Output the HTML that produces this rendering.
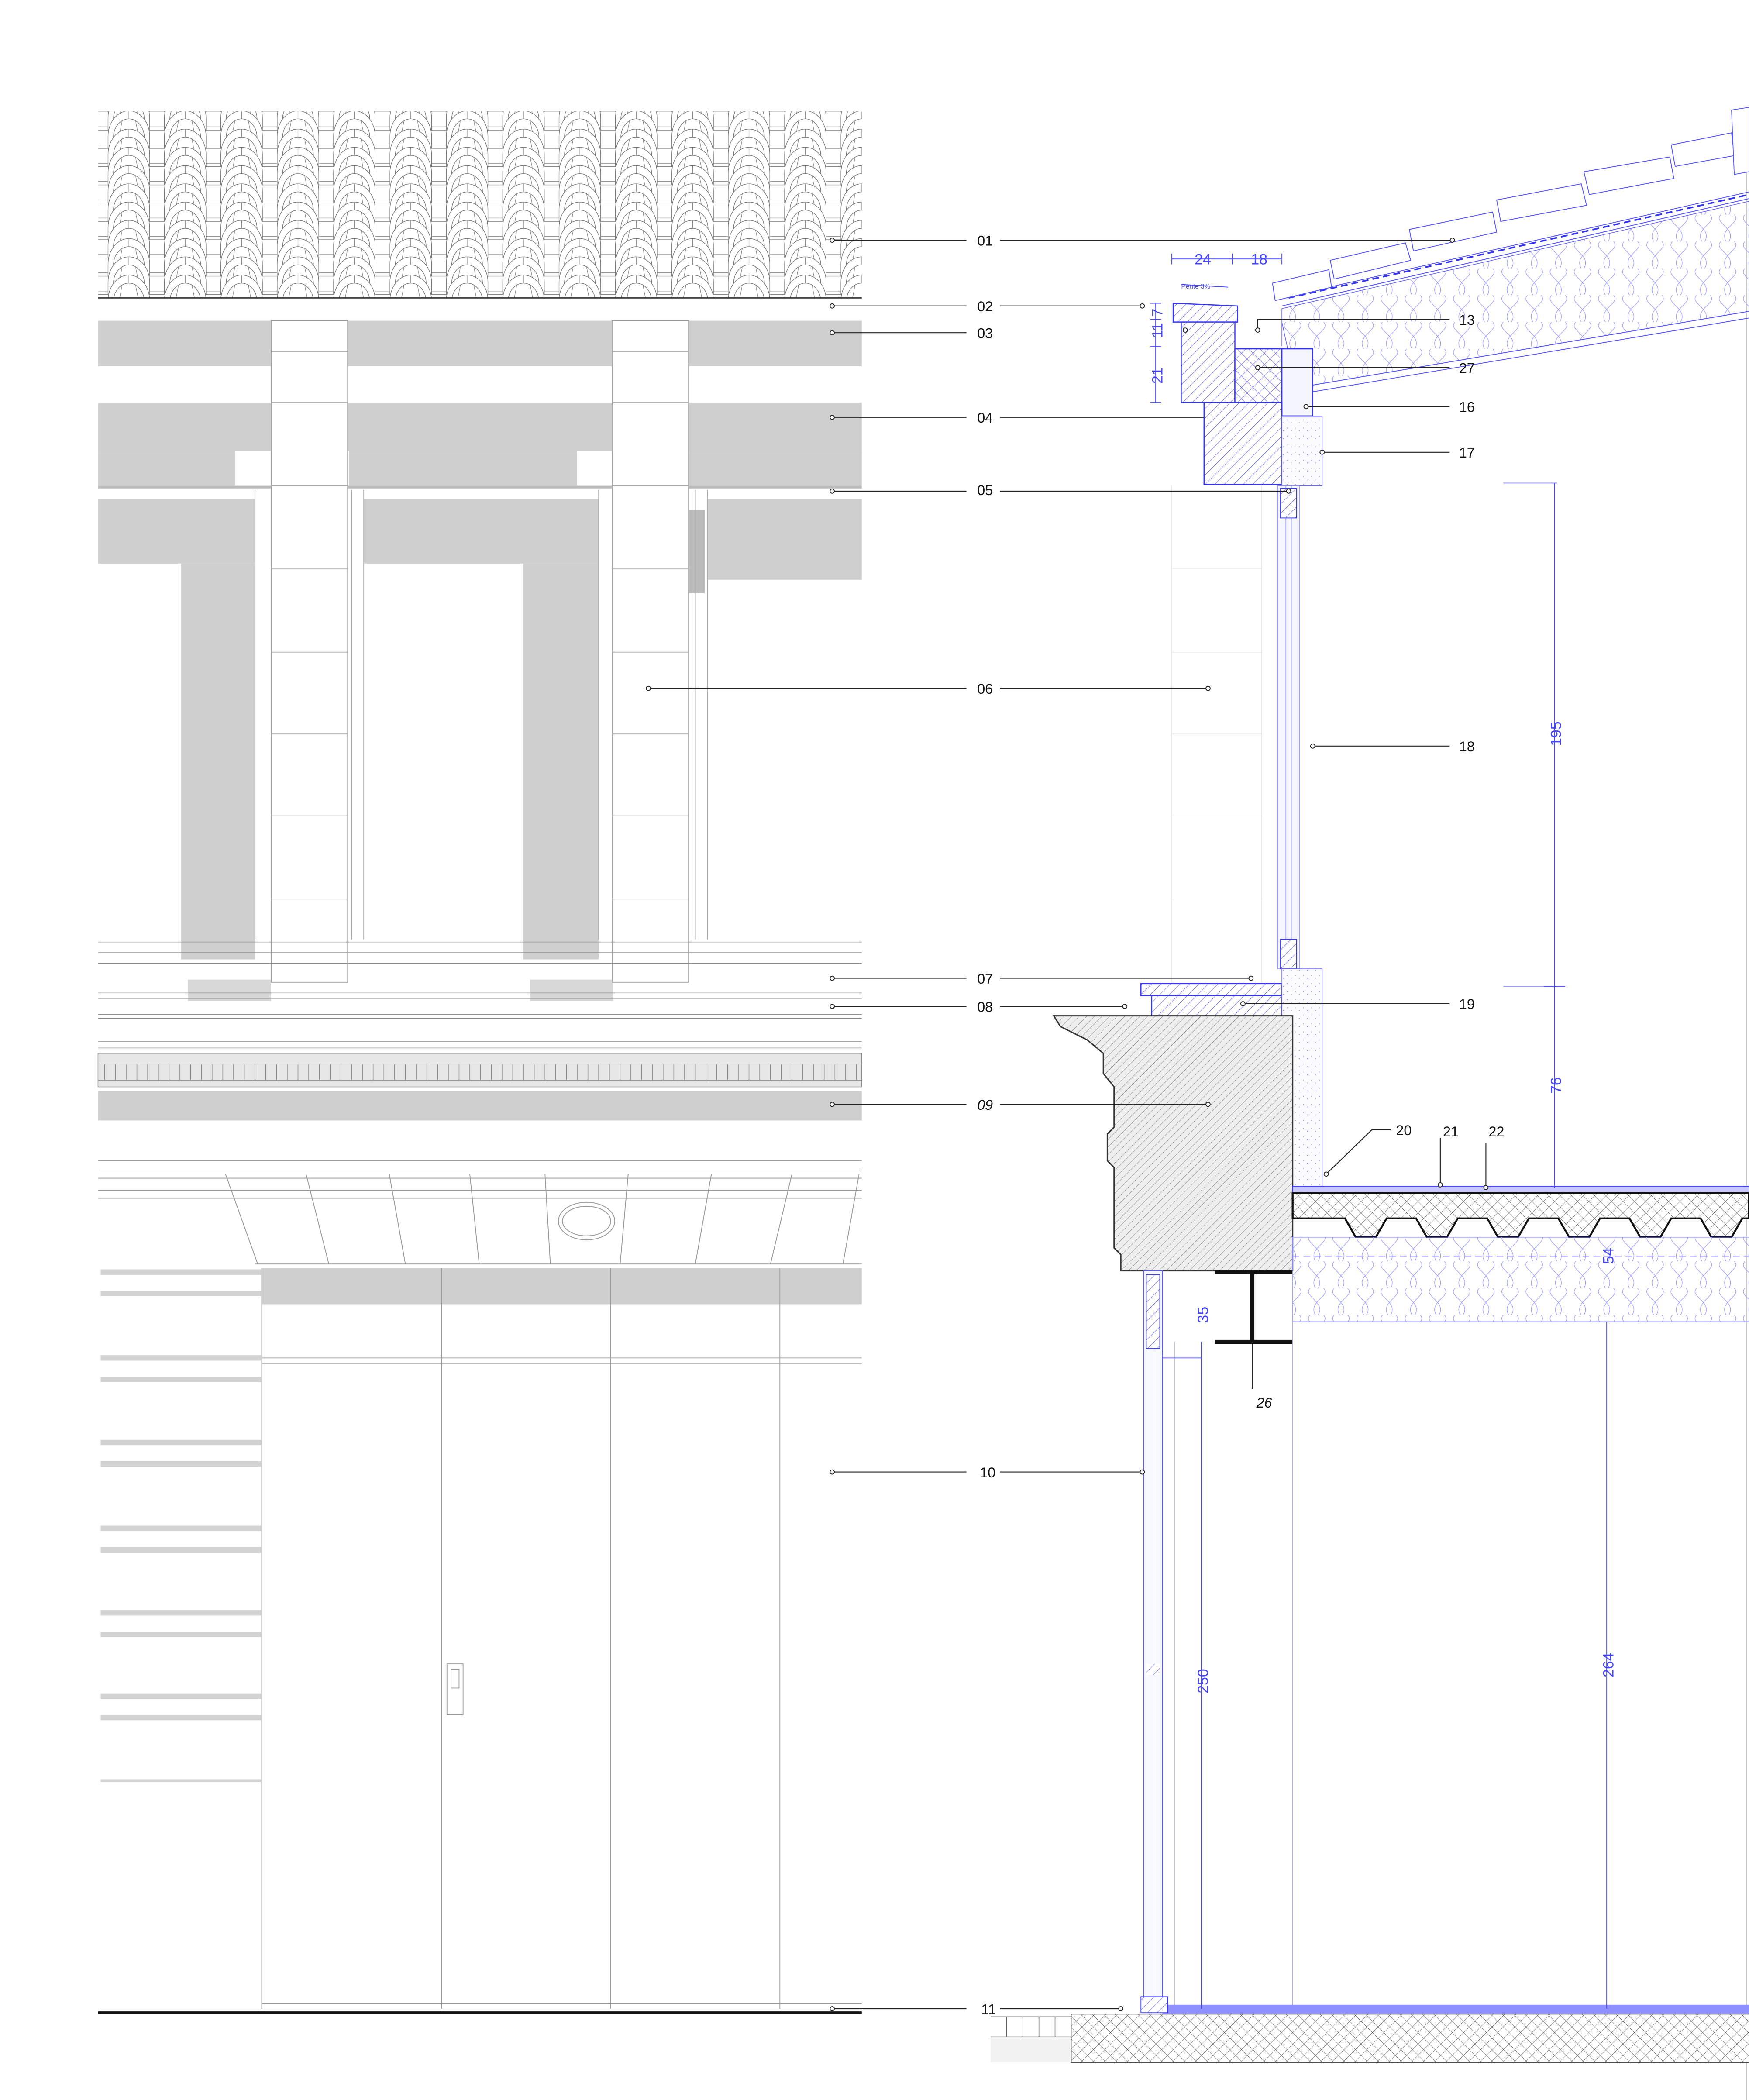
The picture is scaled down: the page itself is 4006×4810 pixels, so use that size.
<!DOCTYPE html>
<html><head><meta charset="utf-8"><style>
html,body{margin:0;padding:0;background:#fff}
svg{display:block}
text{font-family:"Liberation Sans",sans-serif}
</style></head><body>
<svg width="4006" height="4810" viewBox="0 0 1303 1565" preserveAspectRatio="none" xmlns="http://www.w3.org/2000/svg">
<defs>
<g id="t">
<path d="M-15.5 0V-9A15.5 19 0 0 1 15.5 -9V0Z" fill="#fff" stroke="#777" stroke-width="0.45"/>
<path d="M-11.5 0V-8A11.5 14 0 0 1 11.5 -8V0" fill="none" stroke="#777" stroke-width="0.45"/>
<path d="M0 -28V-22M-5 -20.5L-9 0M5 -20.5L9 0" stroke="#888" stroke-width="0.4"/>
</g>
<g id="row">
<path d="M73 0H642M73 -2.5H642" stroke="#888" stroke-width="0.45"/>
<use href="#t" x="54"/><use href="#t" x="96"/><use href="#t" x="138"/><use href="#t" x="180"/><use href="#t" x="222"/><use href="#t" x="264"/><use href="#t" x="306"/><use href="#t" x="348"/><use href="#t" x="390"/><use href="#t" x="432"/><use href="#t" x="474"/><use href="#t" x="516"/><use href="#t" x="558"/><use href="#t" x="600"/><use href="#t" x="642"/>
</g>
<clipPath id="tc"><rect x="73" y="83" width="569" height="139"/></clipPath>
<pattern id="hatch" width="5" height="5" patternUnits="userSpaceOnUse" patternTransform="rotate(45)">
<rect width="5" height="5" fill="#fff"/><path d="M0 0V5" stroke="#3a3af0" stroke-width="0.5"/>
</pattern>
<pattern id="hatchg" width="4" height="4" patternUnits="userSpaceOnUse" patternTransform="rotate(45)">
<rect width="4" height="4" fill="#eee"/><path d="M0 0V4" stroke="#555" stroke-width="0.35"/>
</pattern>
<pattern id="cross" width="6" height="6" patternUnits="userSpaceOnUse" patternTransform="rotate(45)">
<rect width="6" height="6" fill="#fff"/><path d="M0 0V6M0 0H6" stroke="#3a3af0" stroke-width="0.45"/>
</pattern>
<pattern id="crossk" width="6" height="6" patternUnits="userSpaceOnUse" patternTransform="rotate(45)">
<rect width="6" height="6" fill="#fff"/><path d="M0 0V6M0 0H6" stroke="#333" stroke-width="0.4"/>
</pattern>
<pattern id="dots" width="6" height="6" patternUnits="userSpaceOnUse">
<rect width="6" height="6" fill="#fbfbff"/><circle cx="2" cy="3" r="0.3" fill="#66f"/><circle cx="5" cy="1" r="0.25" fill="#66f"/>
</pattern>
<pattern id="ins" width="18" height="20" patternUnits="userSpaceOnUse">
<path d="M4 0C-2 6 16 10 10 20M14 0C20 6 2 10 8 20" fill="none" stroke="#99f" stroke-width="0.4"/>
</pattern>
</defs>

<!-- LEFT ELEVATION -->
<g clip-path="url(#tc)">
<use href="#row" y="83.4"/><use href="#row" y="97"/><use href="#row" y="110.6"/><use href="#row" y="124.2"/><use href="#row" y="137.8"/><use href="#row" y="151.4"/><use href="#row" y="165"/><use href="#row" y="178.6"/><use href="#row" y="192.2"/><use href="#row" y="205.8"/><use href="#row" y="219.4"/><use href="#row" y="233"/>
</g>
<path d="M73 222H642" stroke="#444" stroke-width="1"/>
<rect x="73" y="239" width="569" height="34" fill="#cfcfcf"/>
<rect x="73" y="300" width="569" height="36" fill="#cfcfcf"/>
<rect x="73" y="336" width="102" height="26" fill="#cfcfcf"/>
<rect x="260" y="336" width="170" height="26" fill="#cfcfcf"/>
<rect x="513" y="336" width="129" height="26" fill="#cfcfcf"/>
<rect x="73" y="362" width="569" height="2" fill="#bbb"/>
<rect x="73" y="372" width="117" height="48" fill="#cfcfcf"/>
<rect x="135" y="420" width="55" height="295" fill="#cfcfcf"/>
<rect x="271" y="372" width="175" height="48" fill="#cfcfcf"/>
<rect x="390" y="420" width="56" height="295" fill="#cfcfcf"/>
<rect x="527" y="372" width="115" height="60" fill="#cfcfcf"/>
<rect x="513" y="380" width="12" height="62" fill="#bbb"/>
<path d="M190 365V700M262 365V700M271 365V700M446 365V700M518 365V700M527 365V700" stroke="#aaa" stroke-width="0.6"/>
<rect x="140" y="730" width="62" height="16" fill="#d8d8d8"/>
<rect x="395" y="730" width="62" height="16" fill="#d8d8d8"/>
<g fill="#fff" stroke="#999" stroke-width="0.6">
<rect x="202" y="239" width="57" height="493"/>
<rect x="456" y="239" width="57" height="493"/>
</g>
<path d="M202 262H259M202 300H259M202 362H259M202 424H259M202 486H259M202 547H259M202 608H259M202 670H259M456 262H513M456 300H513M456 362H513M456 424H513M456 486H513M456 547H513M456 608H513M456 670H513" stroke="#aaa" stroke-width="0.6"/>
<g stroke="#888" stroke-width="0.5">
<path d="M73 702H642M73 710H642M73 718H642M73 740H642M73 744H642M73 756H642M73 759H642M73 776H642M73 781H642"/>
</g>
<rect x="73" y="785" width="569" height="25" fill="#e6e6e6" stroke="#888" stroke-width="0.5"/>
<g stroke="#888" stroke-width="0.5" fill="none">
<path d="M73 793H642M73 805H642"/>
<path d="M78 793v12M86 793v12M94 793v12M102 793v12M110 793v12M118 793v12M126 793v12M134 793v12M142 793v12M150 793v12M158 793v12M166 793v12M174 793v12M182 793v12M190 793v12M198 793v12M206 793v12M214 793v12M222 793v12M230 793v12M238 793v12M246 793v12M254 793v12M262 793v12M270 793v12M278 793v12M286 793v12M294 793v12M302 793v12M310 793v12M318 793v12M326 793v12M334 793v12M342 793v12M350 793v12M358 793v12M366 793v12M374 793v12M382 793v12M390 793v12M398 793v12M406 793v12M414 793v12M422 793v12M430 793v12M438 793v12M446 793v12M454 793v12M462 793v12M470 793v12M478 793v12M486 793v12M494 793v12M502 793v12M510 793v12M518 793v12M526 793v12M534 793v12M542 793v12M550 793v12M558 793v12M566 793v12M574 793v12M582 793v12M590 793v12M598 793v12M606 793v12M614 793v12M622 793v12M630 793v12M638 793v12"/>
</g>
<rect x="73" y="813" width="569" height="22" fill="#cfcfcf"/>
<g stroke="#999" stroke-width="0.6" fill="none">
<path d="M73 865H642M73 872H642M73 878H642M73 887H642M73 893H642M190 942H642"/>
<path d="M168 875L192 942M228 875L245 942M290 875L302 942M350 875L357 942M406 875L410 942M468 875L462 942M530 875L518 942M590 875L574 942M640 875L628 942"/>
<ellipse cx="437" cy="910" rx="21" ry="14"/><ellipse cx="437" cy="910" rx="18" ry="11"/>
</g>
<rect x="195" y="945" width="447" height="27" fill="#cfcfcf"/>
<g stroke="#999" stroke-width="0.6" fill="none">
<path d="M195 945V1497M329 945V1497M455 945V1497M581 945V1497M195 1012H642M195 1016H642M195 1493H642"/>
<rect x="333" y="1240" width="12" height="38"/><rect x="336" y="1244" width="6" height="14"/>
</g>
<g fill="#d2d2d2">
<rect x="75" y="946" width="120" height="4"/><rect x="75" y="962" width="120" height="4"/>
<rect x="75" y="1010" width="120" height="4"/><rect x="75" y="1026" width="120" height="4"/>
<rect x="75" y="1073" width="120" height="4"/><rect x="75" y="1089" width="120" height="4"/>
<rect x="75" y="1137" width="120" height="4"/><rect x="75" y="1153" width="120" height="4"/>
<rect x="75" y="1200" width="120" height="4"/><rect x="75" y="1216" width="120" height="4"/>
<rect x="75" y="1262" width="120" height="4"/><rect x="75" y="1278" width="120" height="4"/>
<rect x="75" y="1326" width="120" height="2"/>
</g>
<path d="M73 1500H642" stroke="#111" stroke-width="2"/>

<!-- RIGHT SECTION -->
<path d="M1301 95V1565" stroke="#bbb" stroke-width="0.6"/>
<polygon points="955,230 1303,150 1303,232 978,287 978,300 968,300 955,240" fill="url(#ins)" stroke="#66f" stroke-width="0.5"/>
<path d="M955 228L1303 148M955 222L1303 143M978 287L1303 232M978 292L1303 237" stroke="#55f" stroke-width="0.6"/>
<path d="M960 222L1303 145" stroke="#33f" stroke-width="1.2" stroke-dasharray="5 3"/>
<g fill="#fff" stroke="#55f" stroke-width="0.6">
<polygon points="948,211 990,201 992,214 950,224"/>
<polygon points="991,194 1047,181 1051,194 994,208"/>
<polygon points="1050,171 1112,158 1115,173 1053,187"/>
<polygon points="1115,149 1178,137 1182,153 1118,165"/>
<polygon points="1180,128 1244,117 1247,133 1184,145"/>
<polygon points="1245,108 1290,99 1292,116 1248,124"/>
<polygon points="1290,82 1303,80 1303,128 1292,130"/>
</g>
<path d="M874 226L922 228V240H874Z" fill="url(#hatch)" stroke="#33f" stroke-width="0.8"/>
<rect x="880" y="240" width="40" height="60" fill="url(#hatch)" stroke="#33f" stroke-width="0.8"/>
<rect x="920" y="260" width="35" height="40" fill="url(#cross)" stroke="#33f" stroke-width="0.8"/>
<rect x="955" y="260" width="23" height="50" fill="#f4f4ff" stroke="#33f" stroke-width="0.8"/>
<rect x="897" y="300" width="58" height="61" fill="url(#hatch)" stroke="#33f" stroke-width="0.8"/>
<rect x="955" y="310" width="30" height="52" fill="url(#dots)" stroke="#66f" stroke-width="0.5"/>
<path d="M955 240V258" stroke="#66f" stroke-width="0.5"/>
<rect x="952" y="362" width="16" height="360" fill="#f6f6ff" stroke="#88f" stroke-width="0.5"/>
<path d="M958 362V722M962 362V722" stroke="#77f" stroke-width="0.5"/>
<g stroke="#ddd" stroke-width="0.4"><path d="M873 362V760M940 362V760M873 424H940M873 486H940M873 547H940M873 608H940M873 670H940"/></g>
<rect x="954" y="364" width="12" height="22" fill="url(#hatch)" stroke="#33f" stroke-width="0.6"/>
<rect x="954" y="700" width="12" height="22" fill="url(#hatch)" stroke="#33f" stroke-width="0.6"/>
<path d="M1120 735H1160M1120 360H1160" stroke="#88f" stroke-width="0.6"/>
<path d="M850 733H955V742H850Z" fill="url(#hatch)" stroke="#33f" stroke-width="0.8"/>
<rect x="858" y="742" width="97" height="15" fill="url(#hatch)" stroke="#33f" stroke-width="0.8"/>
<rect x="955" y="722" width="30" height="163" fill="url(#dots)" stroke="#66f" stroke-width="0.5"/>
<path d="M785 757H963V947H835V935L830 930V870L825 865V845L830 840V810L822 800V785L810 775L800 770L790 765Z" fill="url(#hatchg)" stroke="#333" stroke-width="1"/>
<rect x="963" y="884" width="340" height="5" fill="#c8c8ff" stroke="#33f" stroke-width="0.6"/>
<path d="M963 889H1303V908H1298L1290 922H1275L1267 908H1245L1237 922H1222L1214 908H1192L1184 922H1169L1161 908H1139L1131 922H1116L1108 908H1086L1078 922H1063L1055 908H1033L1025 922H1010L1002 908H963Z" fill="url(#crossk)" stroke="#111" stroke-width="1.4"/>
<rect x="963" y="922" width="340" height="63" fill="url(#ins)" stroke="#88f" stroke-width="0.5"/>
<path d="M963 936H1303" stroke="#88f" stroke-width="0.5" stroke-dasharray="5 3"/>
<path d="M905 948H963M933 948V1000M905 1000H963" stroke="#111" stroke-width="3"/>
<rect x="852" y="947" width="14" height="550" fill="#f8f8ff" stroke="#55f" stroke-width="0.6"/>
<rect x="854" y="950" width="10" height="55" fill="url(#hatch)" stroke="#33f" stroke-width="0.5"/>
<rect x="854" y="1240" width="10" height="8" fill="url(#hatch)"/>
<path d="M859 1005V1494M875 1000V1497M963 947V1497" stroke="#aac" stroke-width="0.4"/>
<rect x="866" y="1494" width="437" height="7" fill="#8f8fff"/>
<rect x="798" y="1501" width="505" height="36" fill="url(#crossk)" stroke="#333" stroke-width="0.6"/>
<path d="M738 1503H798M738 1518H798M750 1503v15M762 1503v15M774 1503v15M786 1503v15" stroke="#555" stroke-width="0.5" fill="none"/>
<rect x="738" y="1518" width="60" height="19" fill="#f2f2f2"/>
<rect x="850" y="1488" width="20" height="12" fill="url(#hatch)" stroke="#33f" stroke-width="0.6"/>

<g stroke="#44f" stroke-width="0.6" fill="none">
<path d="M873 193H955M873 189v8M918 189v8M955 189v8"/>
<path d="M861 226V300M857 226h8M857 238h8M857 258h8M857 300h8"/>
<path d="M1158 360V885M1150 735h16"/>
<path d="M1197 985V1497M895 1000V1497M866 1012H895"/>
<path d="M880 212L915 214"/>
</g>
<g fill="#44f" font-size="11">
<text x="890" y="197">24</text><text x="932" y="197">18</text>
<text x="880" y="215" font-size="5">Pente 3%</text>
<text transform="translate(866,286) rotate(-90)">21</text>
<text transform="translate(866,252) rotate(-90)">11</text>
<text transform="translate(866,236) rotate(-90)">7</text>
<text transform="translate(1163,556) rotate(-90)">195</text>
<text transform="translate(1163,815) rotate(-90)">76</text>
<text transform="translate(1202,942) rotate(-90)">54</text>
<text transform="translate(1202,1250) rotate(-90)">264</text>
<text transform="translate(900,986) rotate(-90)">35</text>
<text transform="translate(900,1262) rotate(-90)">250</text>
</g>

<g stroke="#222" stroke-width="0.7" fill="none">
<path d="M620 179H720M745 179H1082"/>
<path d="M620 228H720M745 228H851"/>
<path d="M620 248H720"/>
<path d="M620 311H720M745 311H897"/>
<path d="M620 366H720M745 366H960"/>
<path d="M483 513H720M745 513H900"/>
<path d="M620 729H720M745 729H932"/>
<path d="M620 750H720M745 750H838"/>
<path d="M620 823H720M745 823H900"/>
<path d="M620 1097H720M745 1097H851"/>
<path d="M620 1497H720M745 1497H835"/>
<path d="M937 246V238H1080M937 274H1080M973 303H1080M985 337H1080M978 556H1080M926 748H1080"/>
<path d="M988 875L1022 842H1036M1073 883V848M1107 885V852"/>
<path d="M933 1000V1035"/>
</g>
<g fill="#fff" stroke="#222" stroke-width="0.6">
<circle cx="620" cy="179" r="1.6"/><circle cx="1082" cy="179" r="1.6"/>
<circle cx="620" cy="228" r="1.6"/><circle cx="851" cy="228" r="1.6"/>
<circle cx="620" cy="248" r="1.6"/><circle cx="620" cy="311" r="1.6"/>
<circle cx="620" cy="366" r="1.6"/><circle cx="960" cy="366" r="1.6"/>
<circle cx="483" cy="513" r="1.6"/><circle cx="900" cy="513" r="1.6"/>
<circle cx="620" cy="729" r="1.6"/><circle cx="932" cy="729" r="1.6"/>
<circle cx="620" cy="750" r="1.6"/><circle cx="838" cy="750" r="1.6"/>
<circle cx="620" cy="823" r="1.6"/><circle cx="900" cy="823" r="1.6"/>
<circle cx="620" cy="1097" r="1.6"/><circle cx="851" cy="1097" r="1.6"/>
<circle cx="620" cy="1497" r="1.6"/><circle cx="835" cy="1497" r="1.6"/>
<circle cx="883" cy="246" r="1.6"/><circle cx="937" cy="246" r="1.6"/><circle cx="937" cy="274" r="1.6"/>
<circle cx="973" cy="303" r="1.6"/><circle cx="985" cy="337" r="1.6"/><circle cx="978" cy="556" r="1.6"/>
<circle cx="926" cy="748" r="1.6"/><circle cx="988" cy="875" r="1.6"/><circle cx="1073" cy="883" r="1.6"/><circle cx="1107" cy="885" r="1.6"/>
</g>
<g fill="#111" font-size="10.5">
<text x="728" y="183">01</text><text x="728" y="232">02</text><text x="728" y="252">03</text>
<text x="728" y="315">04</text><text x="728" y="369">05</text><text x="728" y="517">06</text>
<text x="728" y="733">07</text><text x="728" y="754">08</text>
<text x="728" y="827" font-style="italic">09</text>
<text x="730" y="1101">10</text><text x="731" y="1501">11</text>
<text x="1087" y="242">13</text><text x="1087" y="278">27</text><text x="1087" y="307">16</text>
<text x="1087" y="341">17</text><text x="1087" y="560">18</text><text x="1087" y="752">19</text>
<text x="1040" y="846">20</text><text x="1075" y="847">21</text><text x="1109" y="847">22</text>
<text x="936" y="1049" font-style="italic">26</text>
</g>
</svg>
</body></html>
